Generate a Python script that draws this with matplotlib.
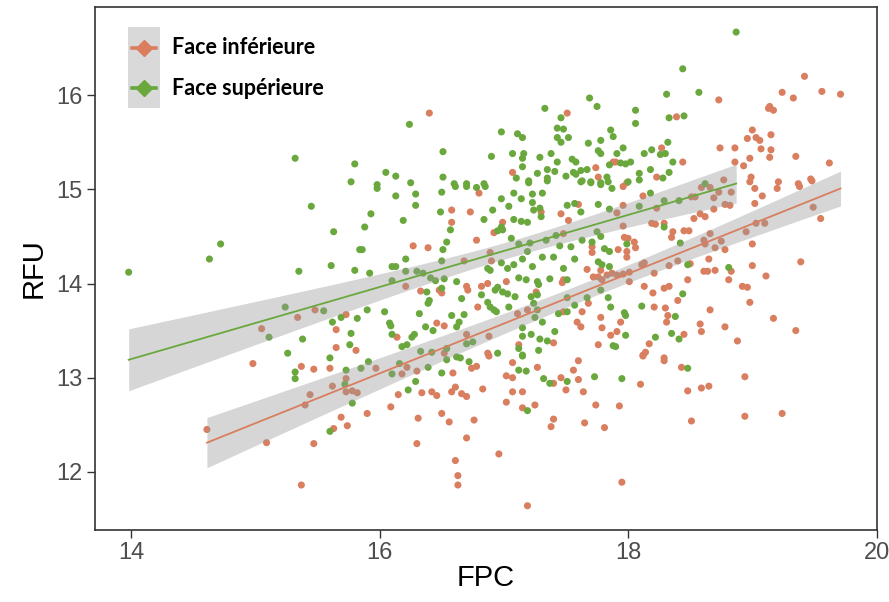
import numpy as np
import matplotlib.pyplot as plt
from matplotlib.patches import Rectangle
from matplotlib.lines import Line2D

# Face inférieure (red points)
inf_fpc = [
    15.05, 15.34, 15.48, 15.73, 15.65, 15.65, 15.81,
    14.98, 14.61, 15.09, 15.37, 15.47, 15.37, 15.47, 15.60, 15.44, 15.40, 15.62, 15.73,
    15.73, 15.78, 15.82, 15.69, 15.74, 15.63,
    16.40, 17.51, 17.07, 17.74, 17.76, 17.88,
    19.42, 19.24, 19.33, 19.56, 19.71, 18.73, 19.13, 19.14, 19.17, 18.39, 19.00, 18.96,
    19.03, 19.06, 19.15, 18.74, 18.86, 19.07, 19.15, 19.35, 19.14, 18.98, 18.27, 18.44,
    18.86, 18.93, 19.62, 18.23, 18.99, 19.47, 19.21, 19.37, 17.90,
    18.98, 19.02, 19.08, 19.20, 19.38, 19.48, 19.02, 19.49, 19.55, 19.03, 19.10, 18.95,
    19.00, 19.39, 19.00, 19.11, 18.92, 18.96, 18.98, 19.17, 19.35, 18.88, 18.78, 18.66,
    18.81, 18.83, 18.78, 18.70, 18.75, 18.66, 18.61, 18.62, 18.65, 18.61, 18.64, 18.70,
    18.58, 18.59, 18.50, 18.48, 18.40, 18.33, 18.21, 18.13, 18.01, 18.29, 18.33, 18.20,
    18.40, 18.21, 18.30, 18.32, 18.31, 18.45, 18.17, 18.14, 18.12, 18.29, 17.91, 17.94,
    18.49, 18.45, 18.53, 18.58, 18.62, 18.36, 18.35, 18.22, 18.19, 18.29, 17.96, 17.97,
    18.00, 18.05, 18.06, 17.99, 17.92, 17.99, 18.01, 17.96, 17.91, 18.11, 18.13, 17.96,
    17.99, 18.12, 17.96, 17.91, 18.23, 18.51, 18.54, 18.59, 18.66, 18.69, 18.69, 18.73,
    18.78, 18.82, 18.83, 18.77,
    18.12, 18.29, 18.43, 18.10, 18.48, 18.59, 18.65, 18.94, 17.93, 18.51, 18.94, 19.24,
    17.95,
    16.30, 16.18, 15.90, 16.09, 16.15, 16.34, 16.42, 16.46, 16.31, 16.30, 16.50, 16.56,
    16.59, 16.61, 16.58, 16.66, 16.70, 16.74, 16.78, 16.83, 16.76, 16.70, 16.61, 16.63,
    16.63, 16.88, 17.07, 17.02, 17.07, 17.07, 17.02, 17.15, 17.15, 17.25, 17.27, 16.96,
    17.19, 17.40, 17.46, 17.56, 17.60, 17.60, 17.50, 17.64, 17.40, 17.38, 17.65, 17.74,
    17.81, 16.22, 15.97,
    16.58, 16.73, 16.58, 16.80, 16.99, 16.92, 16.78, 16.27, 16.39, 17.30, 17.46, 17.52,
    17.60, 16.89, 16.90, 16.68, 17.48, 17.71, 17.71, 17.67, 17.78, 17.76, 17.79, 17.48,
    17.47, 17.02, 16.82, 16.70, 16.71, 16.87, 16.21, 16.33, 16.48, 16.50, 16.46, 16.52,
    16.14, 16.79, 17.19, 17.11, 17.26, 17.63, 17.68, 17.48, 17.78, 17.79, 17.59, 17.62,
    17.86, 17.40, 17.76, 16.88, 16.70, 16.87, 17.12, 16.52, 17.72, 17.83, 17.87,
]
inf_rfu = [
    13.52, 13.64, 13.72, 13.67, 13.51, 13.32, 13.29,
    13.15, 12.45, 12.31, 11.86, 12.30, 13.12, 13.09, 13.10, 12.82, 12.71, 12.91, 12.99,
    12.85, 12.86, 12.84, 12.58, 12.49, 12.46,
    15.81, 15.81, 15.18, 15.23, 15.13, 15.29,
    16.20, 16.03, 15.97, 16.04, 16.01, 15.95, 15.86, 15.88, 15.84, 15.77, 15.63, 15.54,
    15.55, 15.52, 15.58, 15.44, 15.44, 15.43, 15.42, 15.35, 15.34, 15.33, 15.44, 15.29,
    15.29, 15.25, 15.28, 15.13, 15.13, 15.11, 15.08, 15.06, 15.29,
    15.08, 15.01, 14.93, 15.01, 15.03, 15.09, 14.85, 14.81, 14.69, 14.64, 14.64, 14.55,
    14.42, 14.23, 14.19, 14.08, 13.97, 13.96, 13.80, 13.63, 13.50, 13.39, 13.54, 13.72,
    14.04, 14.13, 14.36, 14.38, 14.45, 14.53, 14.46, 14.42, 14.26, 14.13, 14.13, 14.14,
    13.57, 13.49, 14.21, 14.04, 14.24, 14.19, 14.11, 13.97, 14.02, 13.95, 13.97, 13.90,
    13.82, 13.75, 13.74, 13.66, 13.59, 13.46, 13.36, 13.27, 13.24, 13.21, 13.49, 13.59,
    14.56, 14.56, 14.69, 14.74, 14.71, 14.55, 14.49, 14.63, 14.64, 14.64, 14.61, 14.49,
    14.48, 14.44, 14.38, 14.34, 14.36, 14.28, 14.12, 14.10, 14.09, 14.20, 14.22, 15.03,
    15.07, 14.93, 14.83, 14.75, 14.80, 14.92, 14.92, 15.02, 15.02, 14.91, 14.79, 14.97,
    14.84, 14.83, 14.97, 15.10,
    13.23, 13.18, 13.11, 12.93, 12.86, 12.89, 12.91, 13.01, 12.70, 12.54, 12.59, 12.62,
    11.89,
    13.07, 13.04, 12.62, 12.69, 12.82, 12.84, 12.85, 12.81, 12.57, 12.30, 12.62, 12.53,
    13.05, 12.90, 12.85, 12.83, 12.80, 13.10, 13.12, 12.88, 12.55, 12.36, 12.12, 11.96,
    11.86, 13.23, 13.16, 13.02, 13.00, 12.85, 12.74, 12.85, 12.68, 12.71, 13.11, 12.19,
    11.64, 12.94, 13.00, 13.08, 13.18, 12.98, 12.87, 12.85, 12.56, 12.48, 12.52, 12.71,
    12.47, 13.11, 13.10,
    14.78, 14.76, 14.65, 14.96, 14.65, 14.54, 14.46, 14.40, 14.38, 14.76, 14.74, 14.67,
    14.84, 14.33, 14.24, 14.24, 14.53, 14.39, 14.33, 14.15, 14.14, 14.07, 14.04, 14.04,
    14.01, 14.02, 13.97, 13.97, 13.93, 14.00, 13.97, 13.92, 13.93, 13.90, 13.58, 13.55,
    13.43, 13.75, 13.72, 13.68, 13.91, 13.70, 13.79, 13.70, 13.64, 13.53, 13.59, 13.54,
    13.45, 13.37, 13.35, 13.44, 13.46, 13.26, 13.35, 13.26, 14.07, 14.09, 14.11,
]

# Face supérieure (green points)
sup_fpc = [
    15.32, 15.80, 15.77,
    13.98, 14.63, 14.72, 15.35, 15.45, 15.63, 15.61, 15.80, 15.84, 15.24, 15.11, 15.55,
    15.38, 15.26, 15.62, 15.69, 15.77, 15.76, 15.82, 15.60,
    15.32, 15.32, 15.73, 15.72, 15.78, 15.60,
    16.24, 17.33, 17.69, 17.75, 17.46, 17.43, 17.48, 17.43, 17.46, 17.52, 16.98, 17.11,
    17.15, 17.86, 17.88, 17.78, 17.68, 17.76, 17.78, 17.91, 16.51, 16.90, 17.07, 17.16,
    17.15, 17.29, 17.38, 17.43, 17.55, 17.58, 16.05, 16.13, 16.51, 17.15, 17.10, 17.27,
    17.35, 17.41, 17.35, 17.20, 17.50, 17.56, 17.62, 17.67, 17.58, 17.63, 17.70, 17.78,
    17.83, 17.85, 16.25, 16.60, 16.70, 16.84, 15.98,
    18.87, 18.44, 18.31, 18.57, 18.06, 18.06, 18.33, 18.45, 17.96, 18.13, 18.19, 18.32,
    18.26, 18.30, 17.94, 17.98, 18.02, 18.36, 18.18, 18.09, 18.09, 18.33, 18.28, 18.00,
    18.18, 18.29, 18.41, 18.62, 18.09, 18.29, 18.42, 17.99, 18.48, 18.81, 18.44, 18.11,
    17.97, 17.98, 18.38, 17.98, 18.22, 18.35, 18.41, 17.90,
    18.48, 17.95,
    15.85, 15.91, 16.10, 16.16, 16.29, 16.23, 16.39, 16.50, 16.54, 16.65, 16.72, 17.15,
    17.12, 17.18, 17.32, 17.37, 17.51, 17.73, 17.19,
    15.98, 16.13, 16.29, 16.29, 16.50, 16.61, 16.70, 16.85, 16.78, 15.93, 15.88, 16.19,
    16.49, 15.86, 15.92, 16.10, 16.13, 16.21, 16.21, 16.30, 16.35, 16.41, 16.45, 16.10,
    16.50, 16.51, 16.54, 16.57, 16.84, 16.91, 16.98, 17.04, 17.08, 17.14, 17.20, 17.23,
    17.31, 17.23, 17.24, 17.29, 17.30, 17.08, 17.14, 17.19, 17.35, 17.62, 17.70, 17.78,
    17.84, 17.87, 17.51, 17.57, 17.62, 17.76, 17.85, 16.98, 16.99, 16.95, 17.06, 17.12,
    17.21, 17.34, 17.42, 17.45, 17.54, 17.63, 17.75, 17.78, 17.71, 17.81, 17.85, 17.40,
    17.48, 17.57, 17.76, 17.79, 17.85, 17.31, 17.23, 17.19, 17.15, 17.08, 17.03, 16.98,
    16.87, 16.89, 17.12, 17.18, 17.27, 17.37, 17.28, 16.95, 16.93, 16.99, 17.03, 17.09,
    17.22, 17.27, 16.62, 16.52, 16.38, 16.40, 16.39, 16.50, 16.66, 16.82, 16.87, 16.89,
    16.92, 16.94, 17.04, 17.24, 17.27, 17.25, 17.31, 17.15, 17.15, 17.22, 17.29, 17.35,
    17.41, 17.44, 17.51, 17.57, 17.51, 17.67, 17.78, 17.84, 17.86, 17.88, 16.28, 16.26,
    16.08, 16.09, 16.04, 15.90, 16.32, 16.37, 16.43, 16.58, 16.64, 16.68, 16.62, 16.10,
    16.18, 16.22, 16.33, 16.42, 16.54, 16.62, 16.70, 16.75, 16.95, 17.12, 17.15, 17.28,
    17.51,
]
sup_rfu = [
    15.33, 15.27, 15.08,
    14.12, 14.26, 14.42, 14.13, 14.82, 14.55, 14.19, 14.14, 14.36, 13.75, 13.43, 13.71,
    13.41, 13.26, 13.59, 13.64, 13.47, 13.35, 13.63, 13.21,
    13.06, 12.99, 13.08, 12.93, 12.73, 12.43,
    15.69, 15.86, 15.97, 15.88, 15.76, 15.65, 15.64, 15.55, 15.50, 15.55, 15.61, 15.59,
    15.55, 15.63, 15.56, 15.52, 15.49, 15.41, 15.38, 15.38, 15.40, 15.35, 15.38, 15.38,
    15.33, 15.34, 15.38, 15.29, 15.32, 15.29, 15.18, 15.14, 15.13, 15.24, 15.12, 15.17,
    15.21, 15.19, 15.12, 15.09, 15.14, 15.18, 15.20, 15.21, 15.16, 15.09, 15.08, 15.07,
    15.13, 15.26, 15.07, 15.06, 15.06, 15.06, 15.05,
    16.67, 16.28, 16.01, 16.03, 15.84, 15.70, 15.76, 15.78, 15.44, 15.38, 15.42, 15.50,
    15.37, 15.38, 15.28, 15.27, 15.29, 15.29, 15.21, 15.17, 15.10, 15.18, 15.12, 15.08,
    14.96, 14.88, 14.88, 15.06, 14.82, 14.60, 14.43, 14.42, 14.20, 14.17, 13.89, 13.76,
    13.69, 13.66, 13.65, 13.45, 13.43, 13.47, 13.41, 13.33,
    13.10, 12.99,
    13.10, 13.17, 13.04, 13.15, 12.96, 12.87, 13.11, 13.05, 13.19, 13.21, 13.17, 13.23,
    13.08, 13.07, 12.99, 12.94, 12.96, 13.01, 12.65,
    15.01, 14.93, 14.95, 14.83, 14.97, 15.03, 15.03, 15.03, 15.02, 14.74, 14.60, 14.67,
    14.76, 14.36, 14.11, 14.18, 14.18, 14.26, 14.13, 14.13, 14.11, 14.06, 14.03, 14.03,
    14.24, 14.36, 14.44, 14.57, 14.68, 14.78, 14.90, 14.82, 14.96, 14.90, 15.07, 14.95,
    14.96, 14.86, 14.78, 14.80, 14.71, 14.68, 14.66, 14.65, 15.09, 15.08, 15.07, 15.05,
    15.08, 15.01, 14.83, 14.85, 14.76, 14.84, 14.79, 14.60, 14.57, 14.56, 14.48, 14.42,
    14.43, 14.46, 14.51, 14.40, 14.39, 14.46, 14.55, 14.50, 14.44, 14.37, 14.34, 14.28,
    14.16, 14.26, 14.23, 14.20, 14.18, 14.28, 14.18, 14.34, 14.26, 14.20, 14.16, 14.22,
    14.16, 14.14, 14.06, 14.04, 14.02, 14.05, 13.99, 13.96, 13.93, 13.91, 13.89, 13.86,
    13.86, 13.88, 14.02, 14.05, 13.91, 13.82, 13.79, 13.95, 13.84, 13.88, 13.80, 13.75,
    13.72, 13.70, 13.75, 13.79, 13.72, 13.64, 13.59, 13.53, 13.44, 13.46, 13.41, 13.39,
    13.49, 13.68, 13.70, 13.77, 13.85, 13.85, 13.93, 13.85, 13.75, 13.34, 13.46, 13.43,
    13.58, 13.55, 13.70, 13.72, 13.68, 13.54, 13.50, 13.66, 13.59, 13.67, 13.54, 13.46,
    13.33, 13.35, 13.28, 13.27, 13.31, 13.22, 13.36, 13.38, 13.26, 13.31, 13.24, 13.29,
    14.04,
]

groups = ["Face inférieure", "Face supérieure"]
colors = {"Face inférieure": "#D97E5E", "Face supérieure": "#6AA83E"}
data = {"Face inférieure": (inf_fpc, inf_rfu), "Face supérieure": (sup_fpc, sup_rfu)}


def lm_band(x, y, n_grid=80):
    """Linear fit with 95% confidence band (like geom_smooth(method='lm'))."""
    x, y = np.asarray(x), np.asarray(y)
    n = len(x)
    b, a = np.polyfit(x, y, 1)
    resid = y - (a + b * x)
    s = np.sqrt(np.sum(resid ** 2) / (n - 2))
    xg = np.linspace(x.min(), x.max(), n_grid)
    se = s * np.sqrt(1 / n + (xg - x.mean()) ** 2 / np.sum((x - x.mean()) ** 2))
    yg = a + b * xg
    return xg, yg, yg - 1.97 * se, yg + 1.97 * se


fig = plt.figure(figsize=(8.89, 6.02), dpi=100)
ax = fig.add_axes([0.107, 0.120, 0.879, 0.868])

for g in groups:
    x, y = data[g]
    ax.scatter(x, y, s=26, color=colors[g], edgecolors="none", zorder=2)

for g in groups:
    x, y = data[g]
    xg, yg, lo, hi = lm_band(x, y)
    ax.fill_between(xg, lo, hi, color="#999999", alpha=0.4, lw=0, zorder=3)
    ax.plot(xg, yg, color=colors[g], lw=1.3, zorder=4)

ax.set_xlim(13.71, 20.0)
ax.set_ylim(11.385, 16.934)
ax.set_xticks([14, 16, 18, 20])
ax.set_yticks([12, 13, 14, 15, 16])

fam = ["Liberation Sans Narrow", "Liberation Sans", "DejaVu Sans"]
tick_font = dict(family=fam, size=17)
ax.set_xticklabels(["14", "16", "18", "20"], fontdict=tick_font, color="#4D4D4D")
ax.set_yticklabels(["12", "13", "14", "15", "16"], fontdict=tick_font, color="#4D4D4D")
ax.tick_params(direction="out", length=6, width=1, color="#333333", pad=3)
for sp in ax.spines.values():
    sp.set_color("#333333")
    sp.set_linewidth(1.2)

label_font = dict(family=fam, size=21)
ax.set_xlabel("FPC", fontdict=label_font, labelpad=0)
ax.set_ylabel("RFU", fontdict=label_font, labelpad=6)

# legend drawn by hand: gray key column like ggplot's se band keys
ax.add_patch(Rectangle((0.042, 0.807), 0.041, 0.155, transform=ax.transAxes,
                       facecolor="#D9D9D9", edgecolor="none", zorder=5))
for g, ky in zip(groups, [0.922, 0.845]):
    ax.add_line(Line2D([0.047, 0.078], [ky, ky], transform=ax.transAxes,
                       color=colors[g], lw=2.6, zorder=6))
    ax.plot([0.0625], [ky], transform=ax.transAxes, marker="D", markersize=8,
            color=colors[g], zorder=7)
    ax.text(0.098, ky, g, transform=ax.transAxes, va="center", ha="left",
            fontsize=15.5, fontweight="bold", family=["Lato", "DejaVu Sans"], zorder=6)

fig.savefig("out.png", dpi=100, facecolor="white")
